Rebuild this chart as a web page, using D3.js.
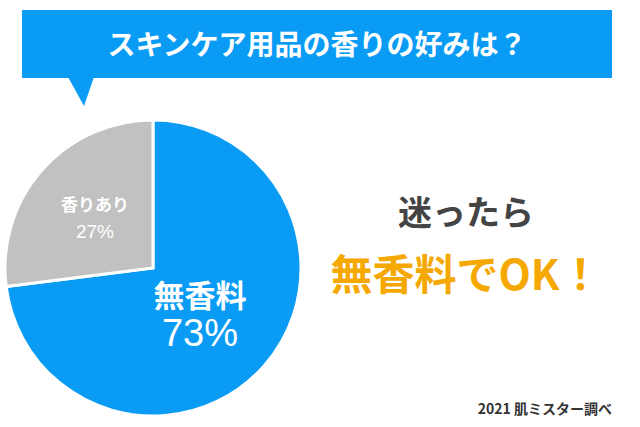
<!DOCTYPE html>
<html><head><meta charset="utf-8">
<script src="https://cdn.jsdelivr.net/npm/d3@7"></script>
<style>body{margin:0;background:#fff}text{font-family:"Noto Sans CJK JP","Noto Sans",sans-serif}</style>
</head><body>
<svg id="c" width="640" height="427"></svg>
<script>
// Data
const categories = ['無香料', '香りあり'];
const values = [73, 27];
const colors = ['#0a9cf5', '#c1c1c1'];

const svg = d3.select('#c');

// Title banner with pointer
svg.append('rect').attr('x', 22).attr('y', 10).attr('width', 590).attr('height', 68).attr('fill', '#0a9cf5');
svg.append('path').attr('d', 'M68,77 L94,77 L84,106 Z').attr('fill', '#0a9cf5');
svg.append('text').attr('x', 317).attr('y', 55).attr('text-anchor', 'middle')
    .attr('fill', '#fff').attr('font-size', 28).attr('font-weight', 'bold')
    .text('スキンケア用品の香りの好みは？');

// Pie
const cx = 153, cy = 268, r = 148;
const pie = d3.pie().sort(null)(values);
const arc = d3.arc().innerRadius(0).outerRadius(r);
const g = svg.append('g').attr('transform', `translate(${cx},${cy})`);
g.selectAll('path').data(pie).enter().append('path')
    .attr('d', arc).attr('fill', (d, i) => colors[i])
    .attr('stroke', '#fff').attr('stroke-width', 3);

// Labels
g.append('text').attr('x', 47).attr('y', 39).attr('text-anchor', 'middle')
    .attr('fill', '#fff').attr('font-size', 31).attr('font-weight', 'bold').text(categories[0]);
g.append('text').attr('x', 47).attr('y', 78).attr('text-anchor', 'middle')
    .attr('fill', '#fff').attr('font-size', 38).style('font-family', '"Liberation Sans",Arial,sans-serif')
    .text(values[0] + '%');
g.append('text').attr('x', -58).attr('y', -57).attr('text-anchor', 'middle')
    .attr('fill', '#fff').attr('font-size', 17).attr('font-weight', 'bold').text(categories[1]);
g.append('text').attr('x', -58).attr('y', -30).attr('text-anchor', 'middle')
    .attr('fill', '#fff').attr('font-size', 19).style('font-family', '"Liberation Sans",Arial,sans-serif')
    .text(values[1] + '%');

// Right-hand message
svg.append('text').attr('x', 466).attr('y', 225).attr('text-anchor', 'middle')
    .attr('fill', '#444').attr('font-size', 34).attr('font-weight', 'bold').text('迷ったら');
svg.append('text').attr('x', 466).attr('y', 290).attr('text-anchor', 'middle')
    .attr('fill', '#f5a800').attr('font-size', 42).attr('font-weight', 'bold').text('無香料でOK！');
svg.append('text').attr('x', 612).attr('y', 414).attr('text-anchor', 'end')
    .attr('fill', '#333').attr('font-size', 14).attr('font-weight', 'bold').text('2021 肌ミスター調べ');
</script>
</body></html>
